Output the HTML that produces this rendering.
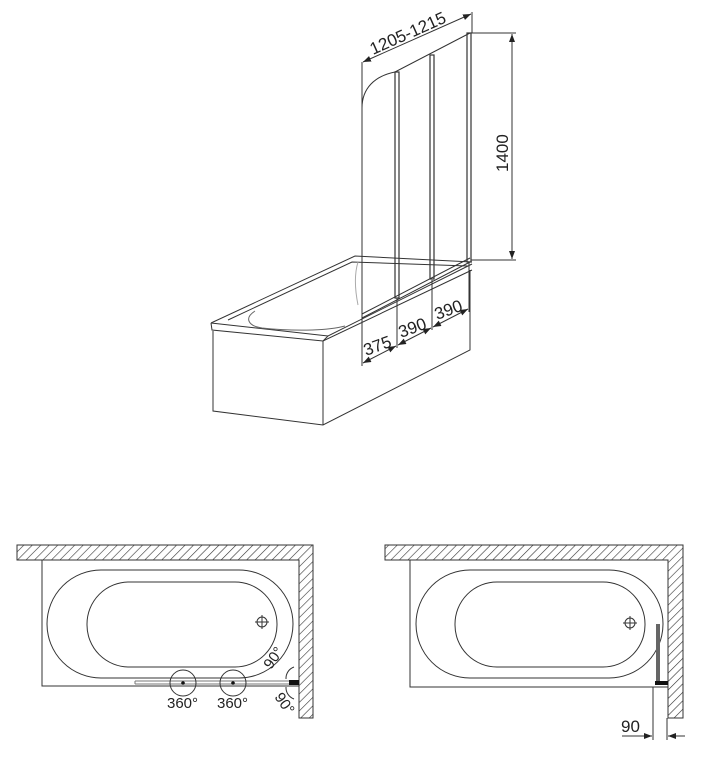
<!DOCTYPE html>
<html><head><meta charset="utf-8"><style>
html,body{margin:0;padding:0;background:#fff;}
svg{display:block;}
text{font-family:"Liberation Sans",sans-serif;fill:#222;}
</style></head><body>
<svg width="712" height="768" viewBox="0 0 712 768" xmlns="http://www.w3.org/2000/svg">
<defs>
<pattern id="h" width="6" height="6" patternUnits="userSpaceOnUse" patternTransform="rotate(45)">
<rect width="6" height="6" fill="#fff"/><line x1="0" y1="0" x2="0" y2="6" stroke="#333" stroke-width="1.2"/>
</pattern>
<marker id="a" markerWidth="8" markerHeight="6" refX="8" refY="3" orient="auto" markerUnits="userSpaceOnUse"><path d="M0,0 L8,3 L0,6 z" fill="#222"/></marker>
<marker id="b" markerWidth="8" markerHeight="6" refX="0" refY="3" orient="auto" markerUnits="userSpaceOnUse"><path d="M8,0 L0,3 L8,6 z" fill="#222"/></marker>
</defs>
<g fill="none" stroke="#333" stroke-width="1">
<!-- tub -->
<path d="M211,323 L355,256 L472,262"/>
<path d="M211,323 L328,336 L472,264"/>
<path d="M211,323 L212,330 L323,341 L472,270"/>
<path d="M328,336 L323,341"/>
<path d="M213,331 L213,411 L323,425 L470,350 L470,270"/>
<path d="M323,341 L323,425"/>
<path d="M228,320 L352,262 L468,266"/>
<path d="M255,311 C244,318 248,326 262,328 C300,332 330,330 345,326" stroke="#666"/>
<path d="M358,262 C354,275 355,290 358,305" stroke="#aaa"/>
<!-- glass -->
<path d="M362,318 L362,108 C362,88 375,76 395,72 L470,33"/>
<path d="M362,318 L470,262 M362,314 L470,258"/>
<rect x="395" y="72" width="4" height="226" stroke-width="1.2"/>
<rect x="430" y="55" width="4" height="224" stroke-width="1.2"/>
<rect x="467" y="33" width="4" height="229" stroke-width="1.2"/>
<!-- dims -->
<path d="M362,108 L362,62 M472,33 L472,12"/>
<line x1="363" y1="62" x2="471" y2="14" marker-start="url(#b)" marker-end="url(#a)"/>
<path d="M471,33 L516,33 M471,260 L516,260"/>
<line x1="512" y1="34" x2="512" y2="259" marker-start="url(#b)" marker-end="url(#a)"/>
<path d="M362,318 L362,366 M397,298 L397,348 M432,280 L432,330 M469,262 L469,312"/>
<line x1="363" y1="363" x2="396" y2="346" marker-start="url(#b)" marker-end="url(#a)"/>
<line x1="398" y1="345" x2="431" y2="328" marker-start="url(#b)" marker-end="url(#a)"/>
<line x1="433" y1="327" x2="468" y2="309" marker-start="url(#b)" marker-end="url(#a)"/>
</g>
<text font-size="17" transform="translate(373,55) rotate(-24)">1205-1215</text>
<text font-size="17" transform="translate(508,172) rotate(-90)">1400</text>
<text font-size="17" transform="translate(366,356) rotate(-20)">375</text>
<text font-size="17" transform="translate(401,338) rotate(-20)">390</text>
<text font-size="17" transform="translate(437,320) rotate(-20)">390</text>

<!-- plan left -->
<g stroke="#333" stroke-width="1">
<path d="M17,545 H313 V718 H299 V560 H17 Z" fill="url(#h)"/>
<path d="M42,560 V686 H299" fill="none"/>
<rect x="47" y="570" width="246" height="108" rx="54" fill="none"/>
<rect x="87" y="582" width="190" height="85" rx="42" fill="none"/>
<circle cx="262" cy="622" r="5" fill="none"/><path d="M255,622 H269 M262,615 V629" fill="none"/>
<path d="M135,681 H290 M135,684 H290 M135,681 V684" fill="none" stroke="#777"/>
<circle cx="183" cy="683" r="13" fill="none"/>
<circle cx="233" cy="683" r="13" fill="none"/>
<path d="M294,667 A12,12 0 0 0 286,679 M294,699 A12,12 0 0 1 286,687" fill="none"/>
</g>
<rect x="289" y="680" width="10" height="5" fill="#111"/>
<circle cx="183" cy="683" r="1.8" fill="#111"/><circle cx="233" cy="683" r="1.8" fill="#111"/>
<text font-size="15" x="167" y="708">360°</text>
<text font-size="15" x="217" y="708">360°</text>
<text font-size="15" transform="translate(271,670) rotate(-55)">90°</text>
<text font-size="15" transform="translate(274,697) rotate(55)">90°</text>

<!-- plan right -->
<g stroke="#333" stroke-width="1">
<path d="M385,545 H683 V718 H668 V560 H385 Z" fill="url(#h)"/>
<path d="M410,560 V687 H668" fill="none"/>
<rect x="416" y="570" width="247" height="108" rx="54" fill="none"/>
<rect x="455" y="582" width="190" height="85" rx="42" fill="none"/>
<circle cx="630" cy="623" r="5" fill="none"/><path d="M623,623 H637 M630,616 V630" fill="none"/>
<path d="M653,687 V740 M667,718 V740" fill="none"/>
<line x1="622" y1="736" x2="652" y2="736" marker-end="url(#a)"/>
<line x1="685" y1="736" x2="668" y2="736" marker-end="url(#a)"/>
</g>
<rect x="656" y="624" width="4" height="59" fill="#666"/>
<rect x="655" y="681" width="13" height="4" fill="#111"/>
<text font-size="17" x="621" y="732">90</text>
</svg>
</body></html>
